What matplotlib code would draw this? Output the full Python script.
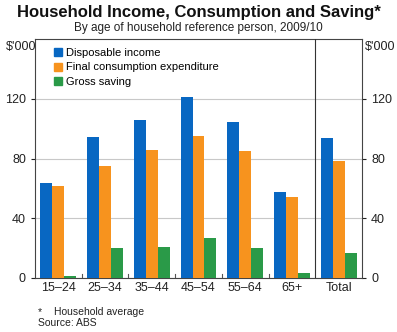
import numpy as np
import matplotlib
matplotlib.use('Agg')
import matplotlib.pyplot as plt
from matplotlib.lines import Line2D

plt.rcParams['font.family'] = ['Liberation Sans', 'DejaVu Sans']

categories = ['15–24', '25–34', '35–44', '45–54', '55–64', '65+', 'Total']
disposable_income = [63.5, 94.5, 106, 121.5, 104.5, 57.5, 94]
consumption = [61.5, 75, 86, 95, 85, 54.5, 78]
gross_saving = [1.5, 19.8, 21, 27, 19.8, 3.2, 17]
yticks = [0, 40, 80, 120]

blue = '#0867c2'
orange = '#f7931e'
green = '#2a9a48'

fig = plt.figure(figsize=(3.97, 3.32), dpi=100)
ax = fig.add_axes([35 / 397, 1 - 278 / 332, 327 / 397, 239 / 332])

x = np.arange(len(categories))
w = 0.255
ax.bar(x - w, disposable_income, w, color=blue, zorder=3)
ax.bar(x, consumption, w, color=orange, zorder=3)
ax.bar(x + w, gross_saving, w, color=green, zorder=3)

ax.set_xlim(-0.5, len(categories) - 0.5)
ax.set_ylim(0, 160)
ax.set_yticks(yticks)
ax.grid(axis='y', color='#c8c8c8', linewidth=0.8, zorder=0)
ax.axvline(5.5, color='#333333', linewidth=0.8, zorder=4)

ax.set_xticks(x)
ax.set_xticklabels(categories, fontsize=9)
ax.tick_params(axis='x', length=0, pad=3, colors='#222222')
# small inward ticks between categories
for b in np.arange(0.5, 5.5, 1):
    ax.plot([b, b], [0, 2.5], color='#555555', linewidth=0.8, zorder=4)

ax.tick_params(axis='y', length=3, direction='out', labelsize=9, colors='#222222',
               right=True, labelright=True)
for s in ax.spines.values():
    s.set_color('#444444')
    s.set_linewidth(0.8)

fig.text(21 / 397, 1 - 47 / 332, "$'000", fontsize=9, ha='center', va='center', color='#222222')
fig.text(380 / 397, 1 - 47 / 332, "$'000", fontsize=9, ha='center', va='center', color='#222222')

handles = [Line2D([], [], marker='s', linestyle='none', markersize=5.5, color=c)
           for c in (blue, orange, green)]
ax.legend(handles, ['Disposable income', 'Final consumption expenditure', 'Gross saving'],
          loc='upper left', bbox_to_anchor=(0.03, 0.995), frameon=False, fontsize=8,
          handletextpad=0.2, labelspacing=0.4, handlelength=1.0, borderaxespad=0.3)

fig.text(0.5, 1 - 12 / 332, 'Household Income, Consumption and Saving*', fontsize=12,
         fontweight='bold', ha='center', va='center', color='#111111')
fig.text(0.5, 1 - 28 / 332, 'By age of household reference person, 2009/10', fontsize=8.5,
         ha='center', va='center', color='#222222')

fig.text(38 / 397, 1 - 312 / 332, '*', fontsize=7.5, ha='left', va='center', color='#222222')
fig.text(54 / 397, 1 - 312 / 332, 'Household average', fontsize=7.5, ha='left', va='center', color='#222222')
fig.text(38 / 397, 1 - 323 / 332, 'Source: ABS', fontsize=7.5, ha='left', va='center', color='#222222')

fig.savefig('out.png', dpi=100)
